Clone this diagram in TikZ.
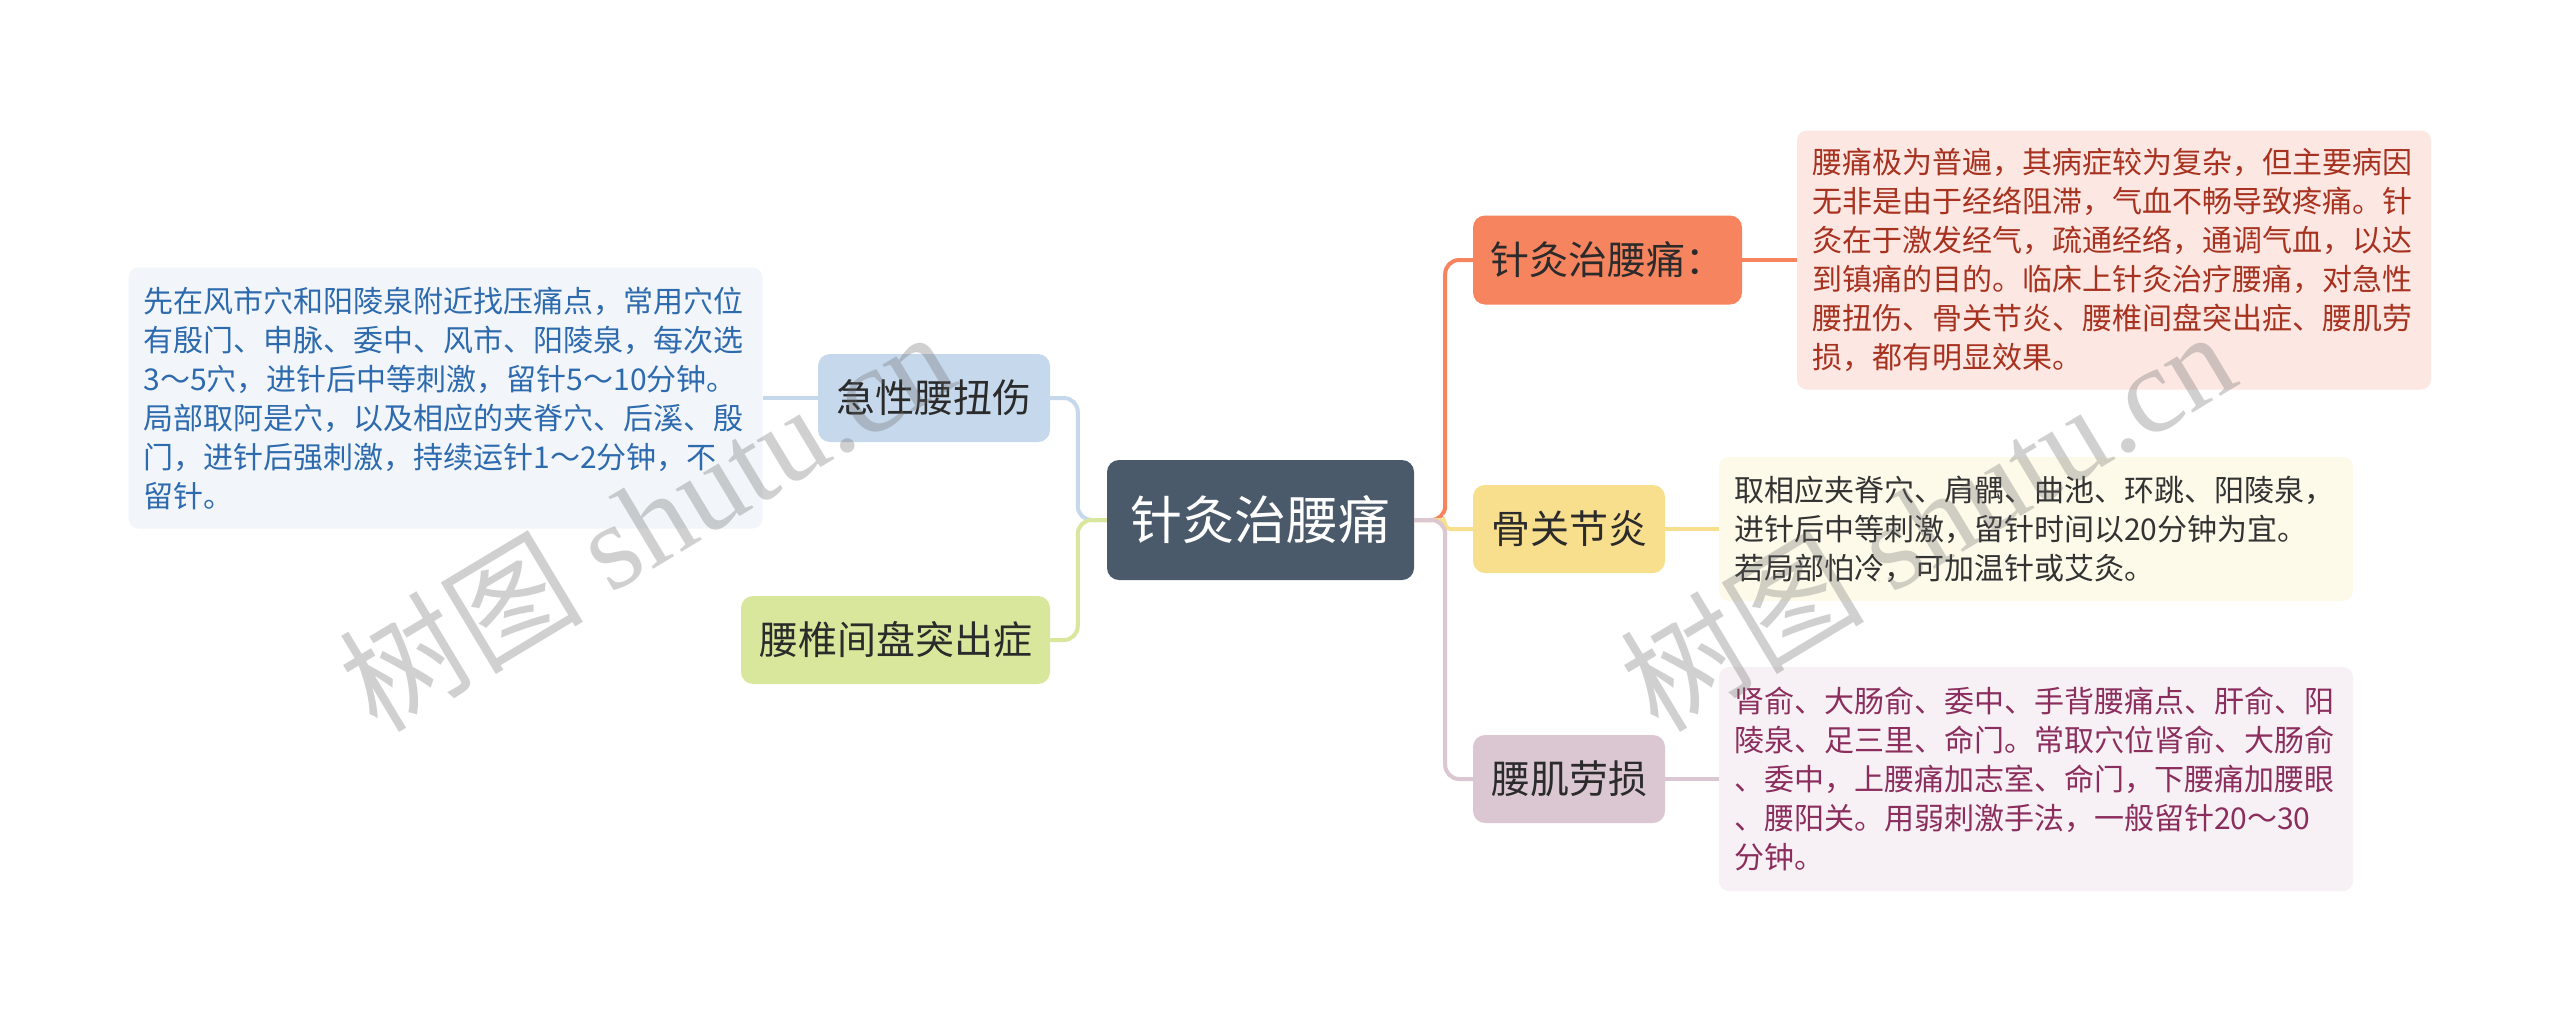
\documentclass[tikz,border=0pt]{standalone}
\usepackage{fontspec}
\setmainfont{Noto Sans CJK SC}
\newfontfamily\wmserif{Liberation Serif}
\definecolor{rootc}{HTML}{4A5A6A}
\definecolor{cblue}{HTML}{C6D8EB}
\definecolor{cgreen}{HTML}{D8E79B}
\definecolor{corange}{HTML}{F5845F}
\definecolor{cyellow}{HTML}{F8DF8E}
\definecolor{cmauve}{HTML}{DBC7D1}
\definecolor{tdark}{HTML}{2B2B2B}
\definecolor{dblue}{HTML}{F2F6FA}
\definecolor{tblue}{HTML}{2D6AAE}
\definecolor{dred}{HTML}{FCE7E2}
\definecolor{tred}{HTML}{A83220}
\definecolor{dyellow}{HTML}{FEFAEA}
\definecolor{tyellow}{HTML}{333333}
\definecolor{dmauve}{HTML}{F7F1F5}
\definecolor{tmauve}{HTML}{8B2E5E}
\begin{document}
\begin{tikzpicture}[x=1pt,y=-1pt,
  rootbox/.style={fill=rootc, text=white, rounded corners=12pt, inner sep=0pt,
    minimum width=307pt, minimum height=120pt, font=\fontsize{52}{60}\selectfont},
  topic/.style={rounded corners=12pt, inner sep=0pt, minimum height=88pt,
    text=tdark, font=\fontsize{39}{47}\selectfont},
  detail/.style={rounded corners=10pt, inner xsep=15pt, inner ysep=0pt, align=left,
    text width=604pt, font=\fontsize{30}{39}\selectfont},
  conn/.style={line width=4pt, rounded corners=14pt},
  wm/.style={text=black!60, opacity=0.3, inner sep=0pt, font=\fontsize{122}{130}\selectfont}]
\useasboundingbox[fill=white] (0,0) rectangle (2560,1020);

% nodes
\node[rootbox] (root) at (1260.5,520) {针灸治腰痛};

\node[topic, fill=cblue, minimum width=232pt] (jx) at (934,398) {急性腰扭伤};
\node[topic, fill=cgreen, minimum width=309pt] (yz) at (895.5,640) {腰椎间盘突出症};

\node[topic, fill=corange, minimum width=269pt, minimum height=89pt] (zj) at (1607.5,260) {针灸治腰痛：};
\node[topic, fill=cyellow, minimum width=192pt] (gj) at (1569,529) {骨关节炎};
\node[topic, fill=cmauve, minimum width=192pt] (yj) at (1569,779) {腰肌劳损};

\node[detail, fill=dblue, text=tblue, minimum height=261pt] (jxd) at (445.5,398) {%
先在风市穴和阳陵泉附近找压痛点，常用穴位\\
有殷门、申脉、委中、风市、阳陵泉，每次选\\
3～5穴，进针后中等刺激，留针5～10分钟。\\
局部取阿是穴，以及相应的夹脊穴、后溪、殷\\
门，进针后强刺激，持续运针1～2分钟，不\\
留针。};

\node[detail, fill=dred, text=tred, minimum height=259pt] (zjd) at (2114,260) {%
腰痛极为普遍，其病症较为复杂，但主要病因\\
无非是由于经络阻滞，气血不畅导致疼痛。针\\
灸在于激发经气，疏通经络，通调气血，以达\\
到镇痛的目的。临床上针灸治疗腰痛，对急性\\
腰扭伤、骨关节炎、腰椎间盘突出症、腰肌劳\\
损，都有明显效果。};

\node[detail, fill=dyellow, text=tyellow, minimum height=144pt] (gjd) at (2036,529) {%
取相应夹脊穴、肩髃、曲池、环跳、阳陵泉，\\
进针后中等刺激，留针时间以20分钟为宜。\\
若局部怕冷，可加温针或艾灸。};

\node[detail, fill=dmauve, text=tmauve, minimum height=224pt] (yjd) at (2036,779) {%
肾俞、大肠俞、委中、手背腰痛点、肝俞、阳\\
陵泉、足三里、命门。常取穴位肾俞、大肠俞\\
、委中，上腰痛加志室、命门，下腰痛加腰眼\\
、腰阳关。用弱刺激手法，一般留针20～30\\
分钟。};

% connectors left
\draw[conn, cblue] (root.west) -- ++(-29,0) |- (jx.east);
\draw[conn, cgreen] (root.west) -- ++(-29,0) |- (yz.east);
\draw[conn, cblue] (jx.west) -- (jxd.east);

% connectors right
\draw[conn, corange] (root.east) -- ++(31,0) |- (zj.west);
\draw[line width=4pt, rounded corners=5pt, cyellow] (root.east) -- ++(31,0) |- (gj.west);
\draw[conn, cmauve] (root.east) -- ++(31,0) |- (yj.west);
\draw[conn, corange] (zj.east) -- (zjd.west);
\draw[conn, cyellow] (gj.east) -- (gjd.west);
\draw[conn, cmauve] (yj.east) -- (yjd.west);

% watermarks
\node[wm, rotate=31] (wm1) at (646,519) {树图 {\wmserif shutu.cn}};
\node[wm, rotate=31] (wm2) at (1927,519) {树图 {\wmserif shutu.cn}};
\end{tikzpicture}
\end{document}
